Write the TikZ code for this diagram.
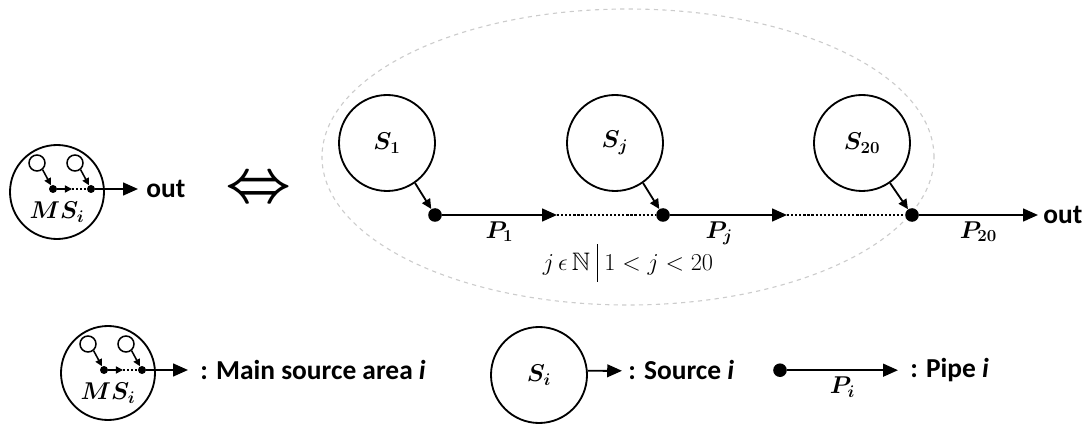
\documentclass[tikz,border=0pt]{standalone}
\usepackage{amsmath,amssymb,bm}
\usepackage{graphicx}
\usepackage[no-math]{fontspec}
\setmainfont{Carlito}
\usetikzlibrary{arrows.meta,shapes.geometric}

\begin{document}
\begin{tikzpicture}[
        src/.style={circle, draw, line width=1.3pt, minimum size=2.4cm, inner sep=0pt, font=\fontsize{18}{21}\selectfont},
        mini/.style={circle, draw, line width=1.1pt, minimum size=0.4cm, inner sep=0pt},
        junc/.style={circle, fill, inner sep=0pt, minimum size=0.34cm},
        knot/.style={circle, fill, inner sep=0pt, minimum size=0.2cm},
        pipe/.style={-{Triangle[length=10.5pt,width=9pt]}, line width=1.4pt},
        feed/.style={-{Triangle[length=7pt,width=6.5pt]}, line width=1.3pt},
        small/.style={-{Triangle[length=5pt,width=5pt]}, line width=1.1pt},
        gap/.style={line width=1.8pt, dash pattern=on 1.6pt off 1.3pt},
        lbl/.style={font=\fontsize{18}{21}\selectfont, inner sep=1pt},
        txt/.style={font=\fontsize{19.5}{24}\selectfont\bfseries, anchor=west, inner sep=0pt},
        region/.style={ellipse, draw=gray!40, dashed, line width=0.8pt, inner sep=0pt}
    ]
        \useasboundingbox (0,0) rectangle (27.3,10.675);

        % group of sources
        \node[region, minimum width=15.3cm, minimum height=7.4cm] (grp) at (15.7,6.75) {};
        \node[src] (s1) at (9.675,7.1) {$\bm{S_1}$};
        \node[src] (sj) at (15.375,7.1) {$\bm{S_j}$};
        \node[src] (s20) at (21.55,7.1) {$\bm{S_{20}}$};
        \node[junc] (j1) at (10.875,5.3) {};
        \node[junc] (jj) at (16.575,5.3) {};
        \node[junc] (j20) at (22.8,5.3) {};
        \coordinate (t1) at (13.925,5.3);
        \coordinate (tj) at (19.675,5.3);
        \coordinate (tout) at (25.95,5.3);
        \node[txt] (out) at (26.075,5.3) {out};

        \draw[feed] (s1.-55) -- (j1);
        \draw[feed] (sj.-55) -- (jj);
        \draw[feed] (s20.-55) -- (j20);
        \draw[pipe] (j1) -- node[lbl, below=3pt] (p1) {$\bm{P_1}$} (t1);
        \draw[gap] (t1) -- (jj);
        \draw[pipe] (jj) -- node[lbl, below=3pt, pos=0.42] (pj) {$\bm{P_j}$} (tj);
        \draw[gap] (tj) -- (j20);
        \draw[pipe] (j20) -- node[lbl, below=3pt] (p20) {$\bm{P_{20}}$} (tout);
        \node[lbl] (cond) at (15.7,4.1) {$j\,\epsilon\,\mathbb{N}\;\rule[-0.45em]{0.6pt}{1.5em}\;1<j<20$};

        % main source area
        \node[src, minimum size=2.35cm] (ms) at (1.425,5.875) {};
        \node[lbl] (msl) at (1.425,5.375) {$\bm{MS_i}$};
        \node[mini] (ma) at (0.925,6.6) {};
        \node[mini] (mb) at (1.875,6.6) {};
        \node[knot] (ka) at (1.325,5.95) {};
        \node[knot] (kb) at (2.275,5.95) {};
        \coordinate (ta) at (1.8,5.95);
        \coordinate (mout) at (3.45,5.95);
        \draw[small] (ma.-50) -- (ka);
        \draw[small] (mb.-50) -- (kb);
        \draw[small] (ka) -- (ta);
        \draw[gap, line width=1.2pt] (ta) -- (kb);
        \draw[pipe] (kb) -- (mout);
        \node[txt] (out2) at (3.65,5.95) {out};
        \node (eqv) at (6.475,5.925) {\scalebox{4.1}[4.2]{$\bm{\Leftrightarrow}$}};

        % legend
        \node[src, minimum size=2.35cm] (lms) at (2.7,1.35) {};
        \node[lbl] (lmsl) at (2.7,0.85) {$\bm{MS_i}$};
        \node[mini] (la) at (2.2,2.075) {};
        \node[mini] (lb) at (3.15,2.075) {};
        \node[knot] (lka) at (2.6,1.425) {};
        \node[knot] (lkb) at (3.55,1.425) {};
        \coordinate (lta) at (3.075,1.425);
        \coordinate (lmout) at (4.7,1.425);
        \draw[small] (la.-50) -- (lka);
        \draw[small] (lb.-50) -- (lkb);
        \draw[small] (lka) -- (lta);
        \draw[gap, line width=1.2pt] (lta) -- (lkb);
        \draw[pipe] (lkb) -- (lmout);
        \node[txt] (lmtxt) at (5.0,1.425) {: Main source area \textit{i}};

        \node[src] (ls) at (13.475,1.3) {$\bm{S_i}$};
        \coordinate (lsout) at (15.55,1.405);
        \draw[pipe] (ls.5) -- (lsout);
        \node[txt] (lstxt) at (15.7,1.42) {: Source \textit{i}};

        \node[junc] (lj) at (19.5,1.42) {};
        \coordinate (ljout) at (22.45,1.42);
        \draw[pipe] (lj) -- node[lbl, below=3pt] (lp) {$\bm{P_i}$} (ljout);
        \node[txt] (lptxt) at (22.75,1.42) {: Pipe \textit{i}};
    \end{tikzpicture}
\end{document}
